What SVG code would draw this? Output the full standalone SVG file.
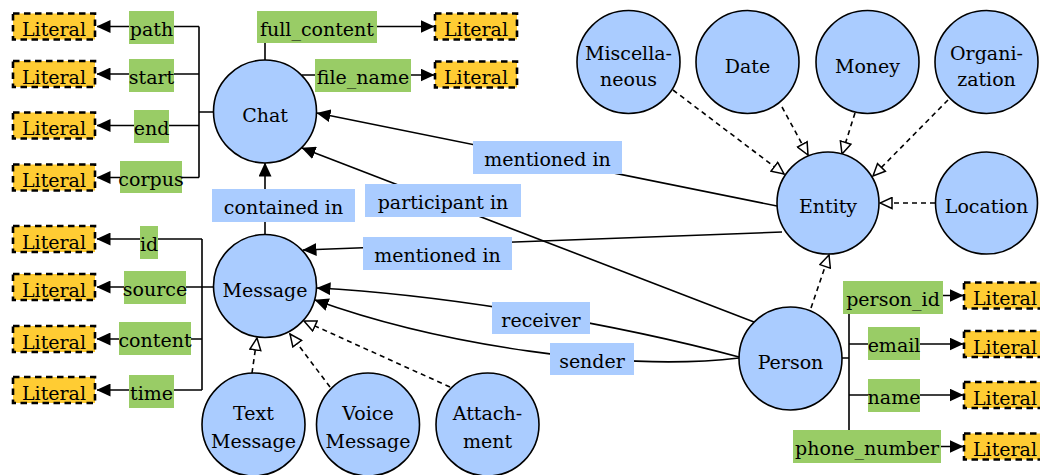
<svg xmlns="http://www.w3.org/2000/svg" width="1040" height="475" viewBox="0 0 1040 475">
  <style>
    text { font-family: "DejaVu Serif", "Liberation Serif", "Noto Serif", serif; font-size: 19px; fill: #000; text-anchor: middle; }
    .cls { fill: #aaccff; stroke: #000; stroke-width: 1.6; }
    .lit { fill: #ffcc33; stroke: #000; stroke-width: 2.6; stroke-dasharray: 6.5 4.5; }
    .prop { fill: #99cc66; }
    .rel { fill: #aaccff; }
    .edge { fill: none; stroke: #000; stroke-width: 1.6; }
    .arr { marker-end: url(#head); }
    .isa { fill: none; stroke: #000; stroke-width: 1.6; stroke-dasharray: 5 4; marker-end: url(#hollow); }
  </style>
  <defs>
    <marker id="head" viewBox="0 0 14 13" refX="13.5" refY="6.5" markerWidth="14" markerHeight="13" markerUnits="userSpaceOnUse" orient="auto">
      <path d="M0,0 L14,6.5 L0,13 z" fill="#000"/>
    </marker>
    <marker id="hollow" viewBox="0 0 14 13" refX="13" refY="6.5" markerWidth="14" markerHeight="13" markerUnits="userSpaceOnUse" orient="auto">
      <path d="M1,1 L13,6.5 L1,12 z" fill="#fff" stroke="#000" stroke-width="1.5" stroke-linejoin="miter"/>
    </marker>
  </defs>

  <!-- connectors -->
  <g id="connectors">
    <!-- Chat properties -->
    <path class="edge" d="M213,112 H199 M199,26.5 V177.5"/>
    <path class="edge arr" d="M199,26.5 H97"/>
    <path class="edge arr" d="M199,74 H97"/>
    <path class="edge arr" d="M199,125.5 H97"/>
    <path class="edge arr" d="M199,177.5 H97"/>
    <path class="edge arr" d="M265,60 V26.5 H434"/>
    <path class="edge arr" d="M302,75 H434"/>
    <!-- Message properties -->
    <path class="edge" d="M213,287 H202 M202,239 V390"/>
    <path class="edge arr" d="M202,239 H97"/>
    <path class="edge arr" d="M202,287 H97"/>
    <path class="edge arr" d="M202,339 H97"/>
    <path class="edge arr" d="M202,390 H97"/>
    <!-- Person properties -->
    <path class="edge" d="M842,358 H849 M849,295.5 V446.5"/>
    <path class="edge arr" d="M849,295.5 H963"/>
    <path class="edge arr" d="M849,344 H963"/>
    <path class="edge arr" d="M849,395 H963"/>
    <path class="edge arr" d="M849,446.5 H963"/>
    <!-- relations -->
    <path class="edge arr" d="M265,235 V163"/>
    <path class="edge arr" d="M754,322 L302,148"/>
    <path class="edge arr" d="M777,206 L317,113"/>
    <path class="edge arr" d="M782,232 L303,250"/>
    <path class="edge arr" d="M739,357 C620,325 450,295 317,288"/>
    <path class="edge arr" d="M739,358 C620,372 440,345 315,300"/>
    <!-- subclass links -->
    <path class="isa" d="M252,373 L257,338"/>
    <path class="isa" d="M330,387 L290,334"/>
    <path class="isa" d="M450,387 L304,321"/>
    <path class="isa" d="M673,90 L784,174"/>
    <path class="isa" d="M782,107 L808,155"/>
    <path class="isa" d="M855,113 L842,154"/>
    <path class="isa" d="M948,100 L873,176"/>
    <path class="isa" d="M935,203 L880,203"/>
    <path class="isa" d="M811,308 L829,255"/>

    <!-- property labels -->
    <rect class="prop" x="129" y="11" width="45" height="33"/><text x="151.5" y="36">path</text>
    <rect class="prop" x="129" y="59" width="45" height="33"/><text x="151.5" y="84">start</text>
    <rect class="prop" x="134" y="110" width="35" height="33"/><text x="151.5" y="135">end</text>
    <rect class="prop" x="120" y="161" width="62" height="32"/><text x="151" y="186">corpus</text>
    <rect class="prop" x="257" y="11" width="120" height="32"/><text x="317" y="36">full_content</text>
    <rect class="prop" x="315" y="59" width="96" height="33"/><text x="363" y="84">file_name</text>
    <rect class="prop" x="140" y="226" width="18" height="33"/><text x="149" y="251">id</text>
    <rect class="prop" x="124" y="271" width="62" height="33"/><text x="155" y="296">source</text>
    <rect class="prop" x="119" y="322" width="72" height="33"/><text x="155" y="347">content</text>
    <rect class="prop" x="129" y="375" width="45" height="33"/><text x="151.5" y="400">time</text>
    <rect class="prop" x="843" y="281" width="100" height="33"/><text x="893" y="306">person_id</text>
    <rect class="prop" x="868" y="327" width="52" height="33"/><text x="894" y="352">email</text>
    <rect class="prop" x="868" y="379" width="52" height="33"/><text x="894" y="404">name</text>
    <rect class="prop" x="793" y="430" width="148" height="33"/><text x="867" y="455" textLength="144" lengthAdjust="spacingAndGlyphs">phone_number</text>

    <!-- relation labels -->
    <rect class="rel" x="212" y="189" width="143" height="33"/><text x="283.5" y="214">contained in</text>
    <rect class="rel" x="365" y="184" width="156" height="33"/><text x="443" y="209">participant in</text>
    <rect class="rel" x="473" y="141" width="149" height="33"/><text x="547.5" y="166">mentioned in</text>
    <rect class="rel" x="363" y="237" width="149" height="33"/><text x="437.5" y="262">mentioned in</text>
    <rect class="rel" x="492" y="302" width="98" height="32"/><text x="541" y="327">receiver</text>
    <rect class="rel" x="550" y="343" width="84" height="32"/><text x="592" y="368">sender</text>
  </g>

  <!-- literal targets -->
  <g id="lit-path"><rect class="lit" x="13" y="13.5" width="82" height="26"/><text x="54" y="36">Literal</text></g>
  <g id="lit-start"><rect class="lit" x="13" y="61" width="82" height="26"/><text x="54" y="83.5">Literal</text></g>
  <g id="lit-end"><rect class="lit" x="13" y="112.5" width="82" height="26"/><text x="54" y="135">Literal</text></g>
  <g id="lit-corpus"><rect class="lit" x="13" y="164.5" width="82" height="26"/><text x="54" y="187">Literal</text></g>
  <g id="lit-full-content"><rect class="lit" x="435" y="13.5" width="82" height="26"/><text x="476" y="36">Literal</text></g>
  <g id="lit-file-name"><rect class="lit" x="435" y="61.5" width="82" height="26"/><text x="476" y="84">Literal</text></g>
  <g id="lit-id"><rect class="lit" x="13" y="226" width="82" height="26"/><text x="54" y="248.5">Literal</text></g>
  <g id="lit-source"><rect class="lit" x="13" y="274" width="82" height="26"/><text x="54" y="296.5">Literal</text></g>
  <g id="lit-content"><rect class="lit" x="13" y="326" width="82" height="26"/><text x="54" y="348.5">Literal</text></g>
  <g id="lit-time"><rect class="lit" x="13" y="377" width="82" height="26"/><text x="54" y="399.5">Literal</text></g>
  <g id="lit-person-id"><rect class="lit" x="964" y="282.5" width="82" height="26"/><text x="1005" y="305">Literal</text></g>
  <g id="lit-email"><rect class="lit" x="964" y="331" width="82" height="26"/><text x="1005" y="353.5">Literal</text></g>
  <g id="lit-name"><rect class="lit" x="964" y="382" width="82" height="26"/><text x="1005" y="404.5">Literal</text></g>
  <g id="lit-phone"><rect class="lit" x="964" y="433.5" width="82" height="26"/><text x="1005" y="456">Literal</text></g>

  <!-- classes -->
  <g id="chat"><circle class="cls" cx="265" cy="111.5" r="51.5"/><text x="265" y="122">Chat</text></g>
  <g id="message"><circle class="cls" cx="265" cy="286" r="51.5"/><text x="265" y="296.5">Message</text></g>
  <g id="text-message"><circle class="cls" cx="253.5" cy="424.5" r="51.5"/><text x="253.5" y="420">Text</text><text x="253.5" y="448">Message</text></g>
  <g id="voice-message"><circle class="cls" cx="368" cy="424.5" r="51.5"/><text x="368" y="420">Voice</text><text x="368" y="448">Message</text></g>
  <g id="attachment"><circle class="cls" cx="487.5" cy="424.5" r="51.5"/><text x="487.5" y="420">Attach-</text><text x="487.5" y="448">ment</text></g>
  <g id="person"><circle class="cls" cx="790.5" cy="358.5" r="51.5"/><text x="790.5" y="369">Person</text></g>
  <g id="entity"><circle class="cls" cx="828" cy="203" r="51"/><text x="828" y="213">Entity</text></g>
  <g id="location"><circle class="cls" cx="986.5" cy="203" r="51"/><text x="986.5" y="213">Location</text></g>
  <g id="miscellaneous"><circle class="cls" cx="628.5" cy="62" r="51.5"/><text x="628.5" y="60">Miscella-</text><text x="628.5" y="86">neous</text></g>
  <g id="date"><circle class="cls" cx="747.5" cy="62" r="51.5"/><text x="747.5" y="72.5">Date</text></g>
  <g id="money"><circle class="cls" cx="867.5" cy="62" r="51.5"/><text x="867.5" y="72.5">Money</text></g>
  <g id="organization"><circle class="cls" cx="986.5" cy="62" r="51.5"/><text x="986.5" y="60">Organi-</text><text x="986.5" y="86">zation</text></g>
</svg>
